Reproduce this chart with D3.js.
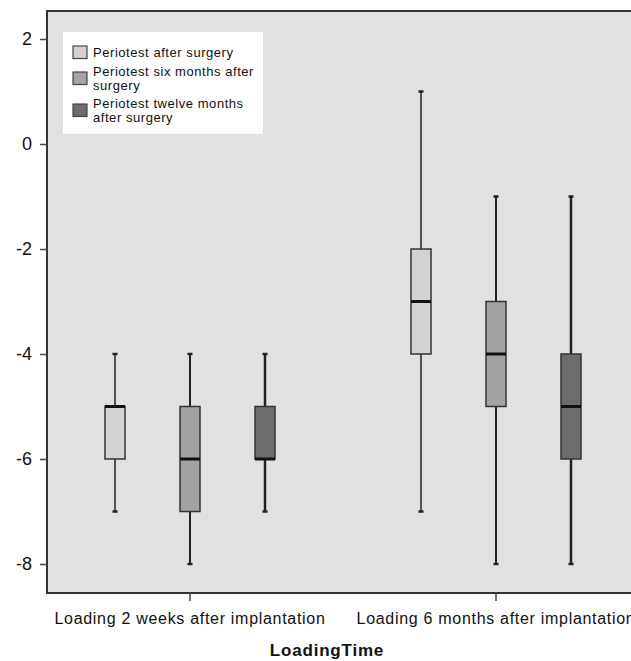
<!DOCTYPE html>
<html>
<head>
<meta charset="utf-8">
<script src="https://cdn.jsdelivr.net/npm/d3@7"></script>
<style>
  body { margin: 0; background: #fff; overflow: hidden; }
  svg { display: block; font-family: Arial, "Liberation Sans", sans-serif; }
</style>
</head>
<body>
<script>
// Chart data
const groups = ['Loading 2 weeks after implantation', 'Loading 6 months after implantation'];
const seriesNames = ['Periotest after surgery', 'Periotest six months after surgery', 'Periotest twelve months after surgery'];
const legendLines = [['Periotest after surgery'], ['Periotest six months after', 'surgery'], ['Periotest twelve months', 'after surgery']];
const seriesColors = ['#d2d2d2', '#a2a2a2', '#6c6c6c'];
// per group, per series: [min, q1, median, q3, max]
const week2Stats = [[-7, -6, -5, -5, -4], [-8, -7, -6, -5, -4], [-7, -6, -6, -5, -4]];
const month6Stats = [[-7, -4, -3, -2, 1], [-8, -5, -4, -3, -1], [-8, -6, -5, -4, -1]];
const yTicks = [2, 0, -2, -4, -6, -8];

const width = 631, height = 661;
const plot = { left: 47, top: 11, right: 660, bottom: 593 };

const svg = d3.select('body').append('svg')
    .attr('width', width)
    .attr('height', height);

const y = d3.scaleLinear()
    .domain([-8, 2])
    .range([564, 39]);

const x = d3.scaleBand()
    .domain(groups)
    .range([37, 649]);

const xInner = d3.scalePoint()
    .domain(seriesNames)
    .range([-75, 75]);

// plot background
svg.append('rect')
    .attr('x', plot.left)
    .attr('y', plot.top)
    .attr('width', plot.right - plot.left)
    .attr('height', plot.bottom - plot.top)
    .attr('fill', '#e1e1e1')
    .attr('stroke', '#333')
    .attr('stroke-width', 2);

// y axis (plain hyphen minus like the original)
const yAxis = svg.append('g')
    .attr('transform', `translate(${plot.left},0)`)
    .call(d3.axisLeft(y).tickValues(yTicks).tickSize(7).tickPadding(8).tickFormat(d => String(d)));
yAxis.select('.domain').remove();
yAxis.selectAll('line').attr('stroke', '#444').attr('stroke-width', 1.5);
yAxis.selectAll('text').style('font-size', '18px').attr('fill', '#111');

// x axis
const xAxis = svg.append('g')
    .attr('transform', `translate(0,${plot.bottom})`)
    .call(d3.axisBottom(x).tickSize(8).tickPadding(12));
xAxis.select('.domain').remove();
xAxis.selectAll('line').attr('stroke', '#444').attr('stroke-width', 1.5);
xAxis.selectAll('text')
    .style('font-size', '16px')
    .style('letter-spacing', '0.7px')
    .attr('fill', '#111');

svg.append('text')
    .attr('x', 327)
    .attr('y', 656)
    .attr('text-anchor', 'middle')
    .style('font-size', '17px')
    .style('font-weight', 'bold')
    .style('letter-spacing', '0.8px')
    .attr('fill', '#111')
    .text('LoadingTime');

// boxes
const allStats = [week2Stats, month6Stats];
const boxW = 20;
groups.forEach((g, gi) => {
    const gc = x(g) + x.bandwidth() / 2;
    seriesNames.forEach((s, si) => {
        const [mn, q1, md, q3, mx] = allStats[gi][si];
        const cx = gc + xInner(s);
        const grp = svg.append('g');
        const sw = si === 0 ? 1.5 : (si === 1 ? 2 : 2.5);
        grp.append('line')
            .attr('x1', cx).attr('x2', cx)
            .attr('y1', y(mx)).attr('y2', y(mn))
            .attr('stroke', '#222').attr('stroke-width', sw);
        [mn, mx].forEach(v => {
            grp.append('line')
                .attr('x1', cx - 2.5).attr('x2', cx + 2.5)
                .attr('y1', y(v)).attr('y2', y(v))
                .attr('stroke', '#222').attr('stroke-width', 2.5);
        });
        grp.append('rect')
            .attr('x', cx - boxW / 2)
            .attr('y', y(q3))
            .attr('width', boxW)
            .attr('height', y(q1) - y(q3))
            .attr('fill', seriesColors[si])
            .attr('stroke', '#333')
            .attr('stroke-width', 1.5);
        grp.append('line')
            .attr('x1', cx - boxW / 2).attr('x2', cx + boxW / 2)
            .attr('y1', y(md)).attr('y2', y(md))
            .attr('stroke', '#111').attr('stroke-width', 3);
    });
});

// legend
const legend = svg.append('g');
legend.append('rect')
    .attr('x', 63).attr('y', 32)
    .attr('width', 200).attr('height', 102)
    .attr('fill', '#fff');
const swatchTop = [46, 72, 104];
const firstBaseline = [57, 76, 108];
legendLines.forEach((lines, i) => {
    legend.append('rect')
        .attr('x', 73).attr('y', swatchTop[i])
        .attr('width', 14).attr('height', 12.5)
        .attr('fill', seriesColors[i])
        .attr('stroke', '#444')
        .attr('stroke-width', 1.2);
    lines.forEach((ln, li) => {
        legend.append('text')
            .attr('x', 93)
            .attr('y', firstBaseline[i] + li * 13.5)
            .style('font-size', '13px')
            .style('letter-spacing', '0.55px')
            .attr('fill', '#111')
            .text(ln);
    });
});
</script>
</body>
</html>
